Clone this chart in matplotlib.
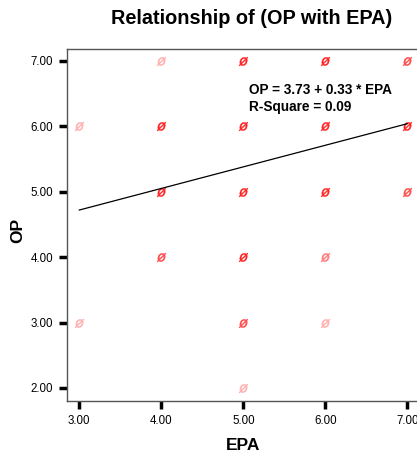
import matplotlib
matplotlib.use("Agg")
import matplotlib.pyplot as plt
import numpy as np

# scatter points (EPA, OP) and a rough count per point (shade intensity)
EPA = [3, 3, 4, 4, 4, 4, 5, 5, 5, 5, 5, 5, 6, 6, 6, 6, 6, 7, 7, 7]
OP = [6, 3, 7, 6, 5, 4, 7, 6, 5, 4, 3, 2, 7, 6, 5, 4, 3, 7, 6, 5]
COUNT = [1, 1, 1, 4, 5, 3, 4, 6, 7, 4, 3, 1, 4, 6, 5, 2, 1, 3, 4, 3]

INTERCEPT, SLOPE, RSQ = 3.73, 0.33, 0.09
XTICKS = [3, 4, 5, 6, 7]
YTICKS = [2, 3, 4, 5, 6, 7]

plt.rcParams['font.family'] = ['Liberation Sans', 'DejaVu Sans']

fig = plt.figure(figsize=(4.17, 4.59), dpi=100)
ax = fig.add_axes([67 / 417, 1 - 401 / 459, 363 / 417, 352 / 459])

cnt = np.array(COUNT, dtype=float)
alpha = 0.3 + 0.7 * np.clip((cnt - 1) / 3.0, 0, 1)
colors = [(1.0, 0.13, 0.13, a) for a in alpha]
for x, y, c in zip(EPA, OP, colors):
    ax.plot(x, y, marker='$ø$', ms=6.5, color=c, ls='none', mew=0.3)

xl = np.array([3.0, 7.0])
ax.plot(xl, INTERCEPT + SLOPE * xl, color='black', lw=0.9)

ax.text(5.07, 6.55, f"OP = {INTERCEPT:.2f} + {SLOPE:.2f} * EPA", fontsize=9.8,
        fontweight='bold', ha='left', va='center')
ax.text(5.07, 6.29, f"R-Square = {RSQ:.2f}", fontsize=9.8,
        fontweight='bold', ha='left', va='center')

ax.set_xlim(2.85, 2.85 + 363 / 82)
ax.set_ylim(1.8, 1.8 + 352 / 65.4)
ax.set_xticks(XTICKS)
ax.set_xticklabels([f"{v:.2f}" for v in XTICKS])
ax.set_yticks(YTICKS)
ax.set_yticklabels([f"{v:.2f}" for v in YTICKS])
ax.tick_params(length=6, width=2.5, labelsize=8.3, color='black', pad=4)
for s in ax.spines.values():
    s.set_color('#555555')
    s.set_linewidth(1.0)

ax.set_xlabel("EPA", fontsize=12.5, fontweight='bold', va='center')
ax.xaxis.set_label_coords((243 - 67) / 363, -(446 - 401) / 352)
ax.set_ylabel("OP", fontsize=12.5, fontweight='bold', va='center')
ax.yaxis.set_label_coords(-(67 - 18) / 363, (401 - 230) / 352)
fig.text(252 / 417, 1 - 19 / 459, "Relationship of (OP with EPA)", fontsize=14.3,
         fontweight='bold', ha='center', va='center')

fig.savefig("out.png", dpi=100)
